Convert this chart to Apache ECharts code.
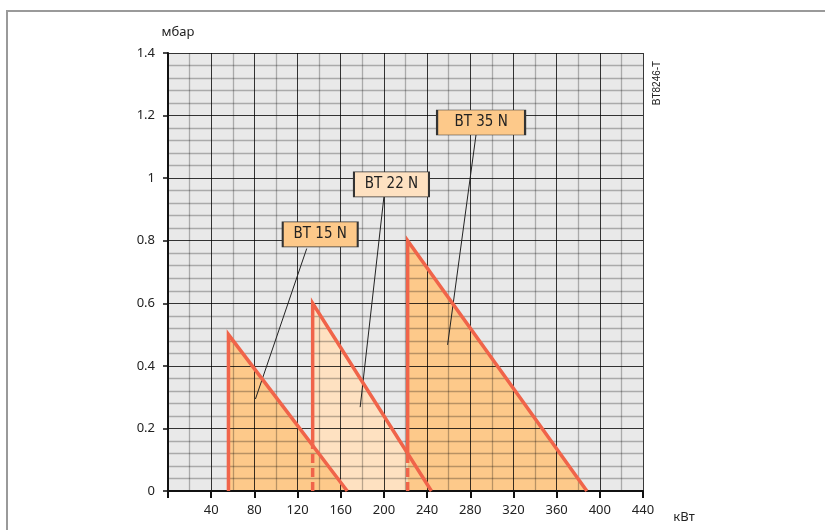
<!DOCTYPE html>
<html><head><meta charset="utf-8">
<script src="https://cdn.jsdelivr.net/npm/echarts@6/dist/echarts.min.js"></script>
<style>html,body{margin:0;padding:0;background:#fff}#c{width:825px;height:530px}</style>
</head><body><div id="c"></div>
<script>
// ---- data ----
const burnerNames = ['BT 15 N', 'BT 22 N', 'BT 35 N'];
const minPowerKW = [56, 134, 222];          // vertical edge of each working field
const maxPressureMbar = [0.5, 0.6, 0.8];    // peak pressure
const maxPowerKW = [166, 244, 388];         // where the sloped edge reaches 0
const solidFromMbar = [0, 0.153, 0.12];     // below this the vertical edge is dashed
const labelX = [141, 207, 290];
const labelY = [0.82, 0.98, 1.178];
const leaderStart = [[128.5, 0.775], [200, 0.94], [285.3, 1.138]];
const leaderEnd = [[81, 0.294], [178, 0.268], [259, 0.467]];
const xMin = 0, xMax = 440, xStep = 40;
const yMin = 0, yMax = 1.4, yStep = 0.2;

// ---- styles ----
const fillColors = ['#fdc98a', '#fee1c1', '#fdc98a'];
const boxWidths = [75, 75, 88];
const red = '#f0644a';
const fontAxis = "'Noto Sans', 'Open Sans', sans-serif";
const fontBox = "'Liberation Sans Narrow', 'DejaVu Sans Condensed', 'Roboto', sans-serif";

const series = [];
// fills (BT 22 N underneath)
[1, 0, 2].forEach(i => {
  series.push({
    type: 'line', z: 1, silent: true, symbol: 'none',
    data: [[minPowerKW[i], 0], [minPowerKW[i], maxPressureMbar[i]], [maxPowerKW[i], 0]],
    lineStyle: { width: 0 },
    areaStyle: { color: fillColors[i], opacity: 1 }
  });
});
// leader lines
burnerNames.forEach((n, i) => {
  series.push({
    type: 'line', z: 4, silent: true, symbol: 'none',
    data: [leaderStart[i], leaderEnd[i]],
    lineStyle: { color: '#222', width: 1 }
  });
});
// outlines
burnerNames.forEach((n, i) => {
  series.push({
    type: 'line', z: 5, silent: true, symbol: 'none',
    data: [[minPowerKW[i], solidFromMbar[i]], [minPowerKW[i], maxPressureMbar[i]], [maxPowerKW[i], 0]],
    lineStyle: { color: red, width: 3.5, join: 'miter', cap: 'butt' }
  });
  if (solidFromMbar[i] > 0) {
    series.push({
      type: 'line', z: 5, silent: true, symbol: 'none',
      data: [[minPowerKW[i], 0], [minPowerKW[i], solidFromMbar[i]]],
      lineStyle: { color: red, width: 3.5, type: [9, 5], cap: 'butt' }
    });
  }
});
// label boxes
burnerNames.forEach((n, i) => {
  series.push({
    type: 'scatter', z: 6, silent: true,
    symbol: 'rect', symbolSize: [boxWidths[i], 25],
    data: [[labelX[i], labelY[i]]],
    itemStyle: { color: fillColors[i], borderColor: '#333', borderWidth: 1.2, opacity: 1 },
    label: { show: true, position: 'inside', formatter: n, color: '#222', fontSize: 15, fontFamily: fontBox }
  });
});

const chart = echarts.init(document.getElementById('c'), null, { renderer: 'canvas' });
chart.setOption({
  animation: false,
  grid: { left: 168, right: 182, top: 53, bottom: 39, show: true, backgroundColor: '#e9e9e9', borderWidth: 0 },
  xAxis: {
    type: 'value', min: xMin, max: xMax, interval: xStep, z: 3,
    axisLine: { show: true, onZero: false, lineStyle: { color: '#111', width: 2 } },
    axisTick: { show: true, length: 7, lineStyle: { color: '#111', width: 2 } },
    axisLabel: { margin: 13, color: '#222', fontSize: 13, fontFamily: fontAxis, formatter: v => v === 0 ? '' : String(v) },
    splitLine: { show: true, lineStyle: { color: 'rgba(0,0,0,0.78)', width: 1 } },
    minorTick: { show: false, splitNumber: 2 },
    minorSplitLine: { show: true, lineStyle: { color: 'rgba(0,0,0,0.27)', width: 1.3 } }
  },
  yAxis: {
    type: 'value', min: yMin, max: yMax, interval: yStep, z: 3,
    axisLine: { show: true, onZero: false, lineStyle: { color: '#111', width: 2 } },
    axisTick: { show: true, length: 5, lineStyle: { color: '#111', width: 1.5 } },
    axisLabel: { margin: 13, color: '#222', fontSize: 13, fontFamily: fontAxis },
    splitLine: { show: true, lineStyle: { color: 'rgba(0,0,0,0.78)', width: 1 } },
    minorTick: { show: false, splitNumber: 5 },
    minorSplitLine: { show: true, lineStyle: { color: 'rgba(0,0,0,0.27)', width: 1.3 } }
  },
  graphic: [
    { type: 'rect', z: 0, silent: true, shape: { x: 7, y: 11, width: 900, height: 600 }, style: { fill: 'none', stroke: '#9a9a9a', lineWidth: 2 } },
    { type: 'text', silent: true, x: 178, y: 32, style: { text: 'мбар', fill: '#222', font: "13px 'Noto Sans', sans-serif", align: 'center', verticalAlign: 'middle' } },
    { type: 'text', silent: true, x: 684, y: 517, style: { text: 'кВт', fill: '#222', font: "13px 'Noto Sans', sans-serif", align: 'center', verticalAlign: 'middle' } },
    { type: 'text', silent: true, x: 657, y: 83, rotation: Math.PI / 2, style: { text: 'BT8246-T', fill: '#222', font: "10px 'Liberation Sans', sans-serif", align: 'center', verticalAlign: 'middle' } }
  ],
  series: series
});
</script>
</body></html>
